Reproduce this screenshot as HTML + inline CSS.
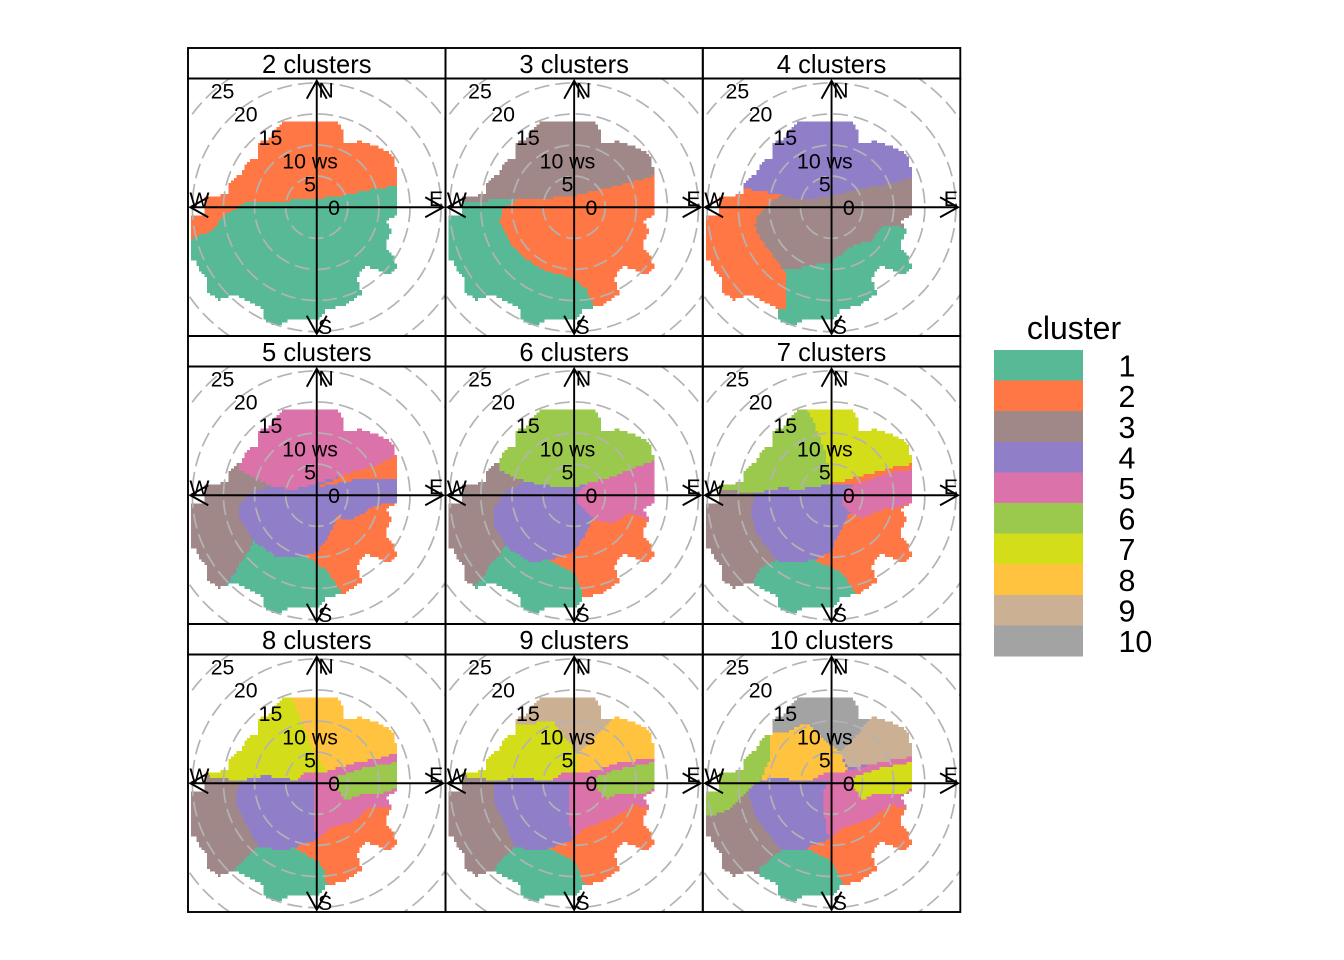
<!DOCTYPE html>
<html>
<head>
<meta charset="utf-8">
<title>Wind clusters</title>
<style>
html,body{margin:0;padding:0;background:#fff;}
svg{display:block;}
text{font-family:"Liberation Sans",Arial,sans-serif;fill:#000;}
</style>
</head>
<body>
<svg id="chart" xmlns="http://www.w3.org/2000/svg" width="1344" height="960" viewBox="0 0 1344 960"></svg>
<script>
// ---- Data (all coordinates are wind components u (east) / v (north), in ws units) ----
const clusterIds = ['1','2','3','4','5','6','7','8','9','10'];
const clusterColors = ['#57B996','#FF7744','#A08888','#917EC9','#DC72AA','#9BC94E','#D4DD1A','#FFC33F','#CBB093','#A3A3A3'];
const panelCounts = [2,3,4,5,6,7,8,9,10];
const wsRings = [5,10,15,20,25];
const wsTickValues = [0,5,10,15,20,25];
const wsTickLabels = ['0','5','10 ws','15','20','25'];
const compassLabels = ['N','E','S','W'];
const whole = [[-25,-25],[25,-25],[25,25],[-25,25]];

const envelope = [[-5.9,13.5],[-4.3,13.9],[3.2,13.7],[4.2,12.5],[4.2,10.3],[7.3,10.6],[10.5,9.5],[12.4,8.2],[12.9,5.2],[13.0,-1.0],[11.3,-2.3],[12.0,-3.7],[10.9,-6.6],[12.4,-8.0],[12.8,-9.6],[11.7,-10.9],[7.8,-9.3],[6.5,-11.5],[7.3,-13.9],[4.3,-16.0],[1.6,-16.3],[0.5,-17.9],[-3.8,-17.9],[-6.5,-19.2],[-8.5,-18.0],[-8.8,-16.3],[-11.8,-14.7],[-13.4,-14.1],[-15.6,-14.9],[-17.5,-13.9],[-17.7,-11.5],[-19,-10.1],[-19.3,-8.6],[-20.4,-8.6],[-20.4,-1.5],[-18.2,-1.2],[-18.2,1.8],[-14.4,2.0],[-14.2,3.8],[-12,5.5],[-11.2,7.4],[-9.6,7.9],[-9.6,10.3],[-7.8,10.9]];

// Each region: [cluster id, boundary]. Later regions paint over earlier ones.
const regions2 = [
 [1,whole],
 [2,[[-25,-5.2],[-20.4,-5.2],[-16.7,-3.7],[-15.1,-1.5],[-11.3,.9],[-5.9,1],[0,1.3],[4.8,2],[10.2,3.1],[25,5],[25,25],[-25,25]]]
];
const regions3 = [
 [1,whole],
 [2,[[-9,1.3],[-11.7,-.4],[-11.9,-2.3],[-10.6,-5.3],[-7.6,-8.5],[-4.9,-10.1],[-.1,-11.5],[2,-13.1],[3.1,-16],[3.1,-25],[25,-25],[25,25],[-9,25]]],
 [3,[[-25,.8],[-18.4,.8],[-10.3,1.3],[-5.5,1.3],[0,1.8],[5.3,3.1],[10.6,4.4],[13.2,5.1],[25,7],[25,25],[-25,25]]]
];
const regions4 = [
 [3,whole],
 [1,[[-8.1,-9.8],[-5.4,-9.8],[0,-8.8],[3,-6.3],[6.5,-5.3],[7.8,-3.4],[9.1,-2.8],[11.8,-3.4],[25,-3.4],[25,-25],[-9,-25],[-9,-16.2]]],
 [2,[[-8.1,2],[-9.9,.6],[-12.1,-1.5],[-12.3,-3.1],[-11.3,-5.3],[-8.1,-9.6],[-7.4,-10.6],[-7.4,-16.2],[-9,-16.2],[-9,-25],[-25,-25],[-25,25],[-8.1,25]]],
 [4,[[-14,3],[-8.1,2],[-5.4,1.1],[0,1.8],[5.4,3.1],[10.8,4.1],[13.2,4.9],[25,7],[25,25],[-25,25],[-25,3]]]
];
const regions5 = [
 [4,whole],
 [1,[[-14.8,-14.8],[-12.6,-11.6],[-11.6,-9.7],[-10.1,-7.5],[-6.5,-9.9],[-1.9,-9.8],[25,-9.8],[25,-25],[-14.8,-25]]],
 [2,[[13.2,-1.1],[9.7,-1.6],[5.9,-3.8],[3.2,-3.6],[1.6,-7.3],[0,-9.1],[-1.9,-9.8],[0,-10.8],[1.9,-12.6],[4.3,-16.1],[4.3,-25],[25,-25],[25,-1.1]]],
 [3,[[-6.7,1.3],[-9.9,.9],[-12.3,-1.3],[-12.3,-3.8],[-10.1,-7.5],[-14.8,-14.8],[-14.8,-25],[-25,-25],[-25,25],[-12.4,25],[-12.4,4]]],
 [5,[[-12.4,4],[-6.7,1.3],[-3.8,.9],[0,1.9],[4.8,3.4],[9.1,4.6],[12.9,6.5],[25,8],[25,25],[-12.4,25]]],
 [2,[[0,1.3],[4.8,3.4],[9.1,4.6],[12.9,6.5],[25,8],[25,2.6],[7,2.6]]]
];
const regions6 = [
 [4,whole],
 [1,[[-16.5,-14.8],[-14.6,-13.2],[-13.5,-11],[-10.9,-8.3],[-7.1,-10.8],[-3.9,-10.4],[25,-10.4],[25,-25],[-16.5,-25]]],
 [2,[[3.1,-3.9],[1.5,-6.7],[0,-9.1],[-3.9,-10.4],[0,-12.6],[1.5,-15.9],[1.5,-25],[25,-25],[25,-4],[11.7,-4],[9,-2.7],[6.1,-4.6]]],
 [3,[[-7.9,2],[-10.9,.8],[-13,-2.4],[-12.7,-5.1],[-10.9,-8.3],[-13.5,-11],[-14.6,-13.2],[-16.5,-14.8],[-16.5,-25],[-25,-25],[-25,25],[-12.2,25],[-12.2,4]]],
 [5,[[2,1.9],[.4,.3],[.2,-.9],[3.1,-3.9],[6.1,-4.6],[9,-2.7],[11.7,-4],[25,-4],[25,8],[12.8,5.5],[10.6,4.8],[6.3,3]]],
 [6,[[-12.2,4],[-8.4,2.4],[-4.9,1.6],[0,1.2],[2,1.9],[6.3,3],[10.6,4.8],[12.8,5.5],[25,8],[25,25],[-12.2,25]]]
];
const regions7 = [
 [4,whole],
 [1,[[-12.9,-14.5],[-11.6,-11.8],[-8.9,-10.4],[-7,-10.9],[-3,-10.4],[25,-10.4],[25,-25],[-12.9,-25]]],
 [2,[[3,-2.7],[1.3,-5.9],[0,-9.1],[-3,-10.4],[0,-11.6],[2.2,-12.9],[3.8,-15.9],[3.8,-25],[25,-25],[25,-1.1],[13.2,-1.1],[10.2,-2.2],[7.5,-2.4],[4.8,-3.8]]],
 [3,[[-18,1.1],[-12.4,.3],[-12.9,-2.4],[-12.4,-5.6],[-8.9,-10.4],[-11.6,-11.8],[-12.9,-14.5],[-12.9,-25],[-25,-25],[-25,1.1]]],
 [6,[[-25,1],[-18.3,1.1],[-12.4,.3],[-8.1,1.2],[-5.4,.9],[-1.1,1.6],[-.3,1.9],[-.8,6.7],[-2.4,10.5],[-3.8,13.7],[-3.8,25],[-25,25]]],
 [7,[[-3.8,25],[-3.8,13.7],[-2.4,10.5],[-.8,6.7],[-.3,1.9],[1.6,2.2],[4.3,3],[10.8,4.7],[13.2,5.1],[25,6],[25,25]]],
 [2,[[-1.1,1.6],[-.3,1.9],[1.6,2.2],[4.3,3],[10.8,4.7],[13.2,5.1],[25,6],[25,4.3],[12.9,4.2],[8.6,3.4],[3.8,1.8]]],
 [5,[[3.8,1.8],[8.6,3.4],[12.9,4.2],[25,4.3],[25,-1.1],[13.2,-1.1],[10.2,-2.2],[7.5,-2.4],[4.8,-3.8],[3,-2.7],[1.6,-1.2],[1.5,.3]]]
];
const regions8 = [
 [4,whole],
 [1,[[-13.2,-13.7],[-9.4,-10.2],[-5.9,-10.8],[-3.8,-10.4],[25,-10.4],[25,-25],[-13.2,-25]]],
 [2,[[0,-9.1],[-3.8,-10.4],[0,-12.4],[1.1,-13.7],[1.6,-16.4],[1.6,-25],[25,-25],[25,-4],[11.8,-4],[8.6,-3.8],[5.9,-6.2],[2.7,-6.9]]],
 [3,[[-17.2,1.1],[-12.6,.4],[-12.9,-3.5],[-9.4,-10.2],[-13.2,-13.7],[-13.2,-25],[-25,-25],[-25,1.1]]],
 [7,[[-25,1.1],[-17.2,1.1],[-12.6,.4],[-8.3,1.2],[-4.8,.8],[-3.5,.4],[-1.7,1.8],[1.6,1.9],[-.3,4.6],[-2.4,9.9],[-4,13.7],[-4,25],[-25,25]]],
 [8,[[-4,25],[-4,13.7],[-2.4,9.9],[-.3,4.6],[1.6,1.9],[5.9,3.2],[10.2,4.1],[13.2,5],[25,6],[25,25]]],
 [5,[[-3.5,.4],[-1.7,1.8],[1.6,1.9],[5.9,3.2],[10.2,4.1],[13.2,5],[25,6],[25,-4],[11.8,-4],[8.6,-3.8],[5.9,-6.2],[2.7,-6.9],[0,-9.1],[-.5,-6.2],[-.5,.3]]],
 [6,[[3.2,.9],[6.5,2.2],[10.2,3],[13.2,3.4],[25,3.4],[25,-1],[13.2,-.8],[10.2,-1.6],[7,-1.9],[4.6,-2.7],[3.2,-.8]]]
];
const regions9 = [
 [4,whole],
 [1,[[-13.1,-14],[-9.5,-10.1],[-7.1,-10.8],[-3.9,-10.5],[25,-10.5],[25,-25],[-13.1,-25]]],
 [2,[[-.1,-9.1],[-3.9,-10.5],[0,-12.6],[1.8,-16.4],[1.8,-25],[25,-25],[25,-4],[11.7,-4],[9.6,-3.5],[6.3,-5.6],[1.5,-7.3]]],
 [3,[[-17.3,1.1],[-12.7,.4],[-12.7,-3.5],[-9.5,-10.1],[-13.1,-14],[-13.1,-25],[-25,-25],[-25,1.1]]],
 [7,[[-25,1.1],[-17.3,1.1],[-12.7,.4],[-8.7,.9],[-3.9,.3],[-1.5,1.8],[.5,1.9],[.5,4.8],[-.9,6.7],[-3.3,9.8],[-9.5,9.5],[-9.5,25],[-25,25]]],
 [8,[[.5,4.8],[.5,1.9],[2.6,1.9],[6.9,3.2],[13.2,4.1],[25,5],[25,25],[6.1,25],[6.1,10.2],[4.2,8.1]]],
 [9,[[-9.5,9.5],[-3.3,9.8],[-.9,6.7],[.5,4.8],[4.2,8.1],[6.1,10.2],[6.1,25],[-9.5,25]]],
 [5,[[-3.9,.3],[-1.5,1.8],[.5,1.9],[2.6,1.9],[6.9,3.2],[13.2,4.1],[25,5],[25,-4],[11.7,-4],[9.6,-3.5],[6.3,-5.6],[1.5,-7.3],[-.1,-9.1],[-.9,-5.6],[-.9,-.8],[-.6,.3]]],
 [6,[[3.4,.9],[6.9,2.2],[13.2,3.5],[25,3.5],[25,-.8],[13.2,-.6],[11.2,-1.9],[6.3,-1.9],[5.3,-2.7],[3.4,-.8]]]
];
const regions10 = [
 [4,whole],
 [1,[[-11.6,-13.7],[-8.1,-10.8],[-4.3,-10.8],[25,-10.4],[25,-25],[-11.6,-25]]],
 [2,[[-.5,-9.1],[-4.3,-10.4],[0,-12.4],[1.9,-16.4],[1.9,-25],[25,-25],[25,-4],[11.8,-4],[9.7,-3.5],[6.5,-5.6],[1.6,-7.3]]],
 [3,[[-25,-5.7],[-18.8,-5.1],[-16.1,-4],[-13.2,-.8],[-13.2,-2.4],[-12.1,-5.6],[-8.1,-10.8],[-11.6,-13.7],[-11.6,-25],[-25,-25]]],
 [6,[[-25,25],[-9.9,25],[-9.9,4],[-11.3,.4],[-13.2,-.8],[-16.1,-4],[-18.8,-5.1],[-25,-5.7]]],
 [8,[[-9.9,7.5],[-9.9,4],[-11.3,.4],[-9.1,.9],[-3.8,.3],[-1.3,1.6],[2.7,2],[1.3,5],[-.8,6.7],[-3.8,9.8],[-7,8.3],[-9.6,8]]],
 [10,[[-9.6,8],[-7,8.3],[-3.8,9.8],[-.8,6.7],[1.3,5],[4.3,8.1],[5.9,10.2],[5.9,25],[-9.6,25]]],
 [9,[[1.3,5],[2.7,2.4],[7,3.2],[13.2,4.3],[25,5],[25,25],[5.9,25],[5.9,10.2],[4.3,8.1]]],
 [5,[[-3.8,.3],[-1.3,1.6],[2.7,2],[7,3.2],[13.2,4.3],[25,5],[25,-4],[11.8,-4],[9.7,-3.5],[6.5,-5.6],[1.6,-7.3],[-.5,-9.1],[-1.1,-5.6],[-1.1,-.8],[-.5,.3]]],
 [7,[[3.5,.9],[7,2.2],[13.2,3.5],[25,3.5],[25,-.8],[13.2,-.6],[11.3,-1.9],[6.5,-1.9],[5.1,-2.7],[3.5,-.8]]]
];
const panelRegions = [regions2,regions3,regions4,regions5,regions6,regions7,regions8,regions9,regions10];

// ---- Layout ----
const NS = 'http://www.w3.org/2000/svg';
const svg = document.getElementById('chart');
const colEdges = [188,445.5,702.8,960.3];
const stripTops = [48,336,624];
const stripH = 30.5;
const plotBottoms = [336,624,912];
const pxPerWs = 6.22;
const cellWs = 0.43;
const axisLen = 126.5;
const tickNudge = {0:0, 5:-1.7, 10:0, 15:3.3, 20:0.9, 25:0};

function mk(parent, tag, attrs, txt){
  const el = document.createElementNS(NS, tag);
  for (const k in attrs) el.setAttribute(k, attrs[k]);
  if (txt !== undefined) el.textContent = txt;
  parent.appendChild(el);
  return el;
}
function inside(poly, u, v){
  let c = false;
  for (let i = 0, j = poly.length - 1; i < poly.length; j = i++){
    const a = poly[i], b = poly[j];
    if ((a[1] > v) !== (b[1] > v) && u < (b[0] - a[0]) * (v - a[1]) / (b[1] - a[1]) + a[0]) c = !c;
  }
  return c;
}
function clusterAt(regions, u, v){
  let id = 0;
  for (const r of regions){ if (inside(r[1], u, v)) id = r[0]; }
  return id;
}
function buildPaths(regions, xs, ys){
  const d = {};
  const n = Math.ceil(22 / cellWs);
  for (let r = -n; r < n; r++){
    const v = (r + 0.5) * cellWs;
    let runId = 0, runStart = 0;
    for (let c = -n; c <= n; c++){
      const u = (c + 0.5) * cellWs;
      const id = (c < n && inside(envelope, u, v)) ? clusterAt(regions, u, v) : 0;
      if (id !== runId){
        if (runId){
          const x1 = xs(runStart * cellWs).toFixed(2), x2 = xs(c * cellWs).toFixed(2);
          const y1 = ys((r + 1) * cellWs).toFixed(2), y2 = ys(r * cellWs).toFixed(2);
          d[runId] = (d[runId] || '') + 'M' + x1 + ' ' + y1 + 'H' + x2 + 'V' + y2 + 'H' + x1 + 'Z';
        }
        runId = id; runStart = c;
      }
    }
  }
  return d;
}

panelCounts.forEach(function(count, idx){
  const col = idx % 3, row = Math.floor(idx / 3);
  const x0 = colEdges[col], x1 = colEdges[col + 1];
  const top = stripTops[row], py0 = top + stripH, py1 = plotBottoms[row];
  const cx = (x0 + x1) / 2, cy = (py0 + py1) / 2;
  const xs = function(u){ return cx + u * pxPerWs; };
  const ys = function(v){ return cy - v * pxPerWs; };

  const g = mk(svg, 'g', {});
  
  

  const clip = mk(g, 'clipPath', {id: 'clip' + count});
  mk(clip, 'rect', {x: x0, y: py0, width: x1 - x0, height: py1 - py0});
  const body = mk(g, 'g', {'clip-path': 'url(#clip' + count + ')'});

  const paths = buildPaths(panelRegions[idx], xs, ys);
  Object.keys(paths).forEach(function(id){
    const p = mk(body, 'path', {d: paths[id], fill: clusterColors[id - 1], 'shape-rendering': 'crispEdges'});
    
    
  });

  wsRings.forEach(function(ws){
    const ring = mk(body, 'circle', {cx: cx, cy: cy, r: ws * pxPerWs, fill: 'none', stroke: '#b3b3b3', 'stroke-width': 1.7, 'stroke-dasharray': '15 6'});
    
    
  });

  // compass axes with arrowheads
  const L = axisLen, hw = 10, hl = 18;
  const axisD = 'M' + cx + ' ' + (cy + L) + 'V' + (cy - L) +
    'M' + (cx - hw) + ' ' + (cy - L + hl) + 'L' + cx + ' ' + (cy - L) + 'L' + (cx + hw) + ' ' + (cy - L + hl) +
    'M' + (cx - hw) + ' ' + (cy + L - hl) + 'L' + cx + ' ' + (cy + L) + 'L' + (cx + hw) + ' ' + (cy + L - hl) +
    'M' + (cx - L) + ' ' + cy + 'H' + (cx + L) +
    'M' + (cx - L + hl) + ' ' + (cy - hw) + 'L' + (cx - L) + ' ' + cy + 'L' + (cx - L + hl) + ' ' + (cy + hw) +
    'M' + (cx + L - hl) + ' ' + (cy - hw) + 'L' + (cx + L) + ' ' + cy + 'L' + (cx + L - hl) + ' ' + (cy + hw);
  const axes = mk(body, 'path', {d: axisD, fill: 'none', stroke: '#000', 'stroke-width': 1.9});
  
  

  const fs = 21.3, mid = 7.5;
  wsTickValues.forEach(function(ws, i){
    const shift = wsTickLabels[i].length > 2 ? 20.6 : 0;
    const t = mk(body, 'text', {x: cx + 17.3 - 4.46 * ws + shift + tickNudge[ws], y: cy + 0.3 - 4.67 * ws + mid, 'font-size': fs, 'text-anchor': 'middle'}, wsTickLabels[i]);
    
    
  });

  compassLabels.forEach(function(lab){
    const ox = lab === 'N' ? 9.3 : lab === 'E' ? 119.3 : lab === 'S' ? 8.3 : -117.3;
    const oy = lab === 'N' ? -117.3 : lab === 'E' ? -9 : lab === 'S' ? 119.3 : -8;
    const t = mk(g, 'text', {x: cx + ox, y: cy + oy + mid, 'font-size': fs, 'text-anchor': 'middle'}, lab);
    
    
  });

  const strip = mk(g, 'rect', {x: x0, y: top, width: x1 - x0, height: stripH, fill: 'none', stroke: '#000', 'stroke-width': 1.9});
  
  
  const frame = mk(g, 'rect', {x: x0, y: py0, width: x1 - x0, height: py1 - py0, fill: 'none', stroke: '#000', 'stroke-width': 1.9});
  
  
  const title = mk(g, 'text', {x: cx, y: top + 25.2, 'font-size': 25.6, 'text-anchor': 'middle'}, count + ' clusters');
  
  
});

// ---- Legend ----
const legend = mk(svg, 'g', {});


const legendTitle = mk(legend, 'text', {x: 1074, y: 338.8, 'font-size': 32, 'text-anchor': 'middle'}, 'cluster');


const swatchH = 30.6;
clusterIds.forEach(function(id, i){
  const y = 350 + i * swatchH;
  const sw = mk(legend, 'rect', {x: 994, y: y, width: 89, height: swatchH + 0.3, fill: clusterColors[i], 'shape-rendering': 'crispEdges'});
  
  
  const lb = mk(legend, 'text', {x: 1118.5, y: y + swatchH / 2 + 11.3, 'font-size': 30.4}, id);
  
  
});
</script>
</body>
</html>
